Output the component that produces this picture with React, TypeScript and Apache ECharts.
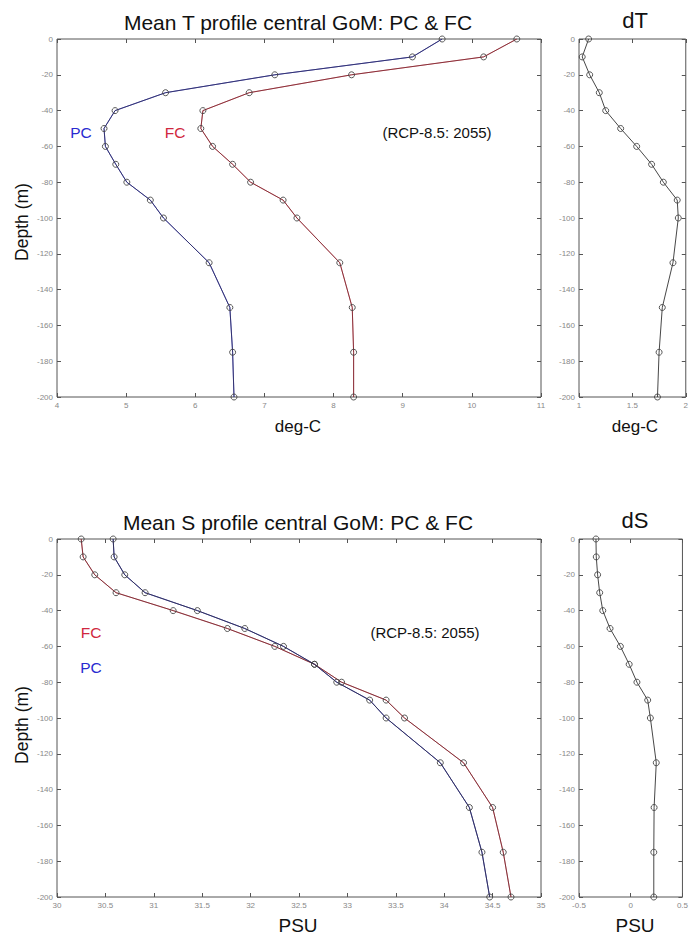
import React, { useEffect, useRef } from "react";
import * as echarts from "echarts";

const depths = [0, -10, -20, -30, -40, -50, -60, -70, -80, -90, -100, -125, -150, -175, -200];
const tPC = [9.57, 9.14, 7.15, 5.57, 4.84, 4.68, 4.7, 4.85, 5.01, 5.35, 5.54, 6.2, 6.5, 6.54, 6.56];
const tFC = [10.65, 10.17, 8.26, 6.78, 6.11, 6.08, 6.25, 6.54, 6.8, 7.27, 7.47, 8.09, 8.27, 8.29, 8.29];
const dT = [1.09, 1.03, 1.1, 1.19, 1.25, 1.39, 1.54, 1.68, 1.79, 1.92, 1.93, 1.88, 1.78, 1.75, 1.735];
const sFC = [30.25, 30.27, 30.39, 30.61, 31.2, 31.76, 32.25, 32.66, 32.94, 33.4, 33.59, 34.2, 34.5, 34.61, 34.69];
const sPC = [30.58, 30.59, 30.7, 30.91, 31.45, 31.94, 32.34, 32.66, 32.89, 33.23, 33.4, 33.96, 34.26, 34.39, 34.47];
const dS = [-0.336, -0.333, -0.32, -0.3, -0.27, -0.2, -0.1, -0.015, 0.06, 0.164, 0.19, 0.247, 0.226, 0.223, 0.223];

const titleTop = "Mean T profile central GoM: PC & FC";
const titleBottom = "Mean S profile central GoM: PC & FC";
const scenario = "(RCP-8.5: 2055)";

const FONT = "Liberation Sans, Arial, sans-serif";
const FRAME = "#555";
const TICKLBL = "#888";

function pairs(xs: number[]) {
  return xs.map((x, i) => [x, depths[i]]);
}

export default function App() {
  const ref = useRef<HTMLDivElement>(null);
  useEffect(() => {
    if (!ref.current) return;
    const chart = echarts.init(ref.current, undefined, { renderer: "svg" });
    const grids = [
      { left: 57, top: 39, width: 484, height: 358 },
      { left: 579, top: 39, width: 111, height: 358 },
      { left: 57, top: 539, width: 484, height: 358 },
      { left: 579, top: 539, width: 111, height: 358 },
    ].map((g) => ({ ...g, show: true, borderColor: FRAME, borderWidth: 1, backgroundColor: "#fff" }));

    const xRanges = [
      { min: 4, max: 11, interval: 1 },
      { min: 1, max: 2, interval: 0.5 },
      { min: 30, max: 35, interval: 0.5 },
      { min: -0.5, max: 0.5, interval: 0.5 },
    ];
    const tick = { show: true, inside: true, length: 4, lineStyle: { color: FRAME } };
    const noLine = { show: false, onZero: false };
    const xAxis: any[] = [];
    const yAxis: any[] = [];
    xRanges.forEach((r, i) => {
      xAxis.push({
        type: "value",
        gridIndex: i,
        position: "bottom",
        ...r,
        axisLine: noLine,
        axisTick: tick,
        splitLine: { show: false },
        axisLabel: { color: TICKLBL, fontSize: 8, fontFamily: FONT, margin: 4, showMinLabel: true, showMaxLabel: true },
      });
      xAxis.push({
        type: "value",
        gridIndex: i,
        position: "top",
        ...r,
        axisLine: noLine,
        axisTick: tick,
        splitLine: { show: false },
        axisLabel: { show: false },
      });
      yAxis.push({
        type: "value",
        gridIndex: i,
        position: "left",
        min: -200,
        max: 0,
        interval: 20,
        axisLine: noLine,
        axisTick: tick,
        splitLine: { show: false },
        axisLabel: { color: TICKLBL, fontSize: 8, fontFamily: FONT, margin: 4 },
      });
      yAxis.push({
        type: "value",
        gridIndex: i,
        position: "right",
        min: -200,
        max: 0,
        interval: 20,
        axisLine: noLine,
        axisTick: tick,
        splitLine: { show: false },
        axisLabel: { show: false },
      });
    });

    const colorLine = (data: number[], grid: number, color: string) => ({
      type: "line",
      xAxisIndex: grid * 2,
      yAxisIndex: grid * 2,
      data: pairs(data),
      symbol: "none",
      lineStyle: { color, width: 1 },
      z: 2,
    });
    const markLine = (data: number[], grid: number, opacity: number) => ({
      type: "line",
      xAxisIndex: grid * 2,
      yAxisIndex: grid * 2,
      data: pairs(data),
      symbol: "circle",
      symbolSize: 6,
      itemStyle: { color: "rgba(255,255,255,0)", borderColor: "#444", borderWidth: 0.9 },
      lineStyle: { color: "#333", width: 1, opacity },
      z: 3,
    });

    const series = [
      colorLine(tPC, 0, "#3030c8"),
      markLine(tPC, 0, 0.6),
      colorLine(tFC, 0, "#d03040"),
      markLine(tFC, 0, 0.45),
      markLine(dT, 1, 0.9),
      colorLine(sFC, 2, "#d03040"),
      markLine(sFC, 2, 0.5),
      colorLine(sPC, 2, "#3030c8"),
      markLine(sPC, 2, 0.75),
      markLine(dS, 3, 0.9),
    ];

    const txt = (text: string, x: number, y: number, size: number, color = "#111", extra: any = {}) => ({
      type: "text",
      x,
      y,
      style: { text, fontSize: size, fontFamily: FONT, fill: color, align: "center", verticalAlign: "middle" },
      z: 10,
      ...extra,
    });

    const graphic = [
      txt(titleTop, 298, 22, 21),
      txt("dT", 635, 20, 22),
      txt("deg-C", 298, 426, 17),
      txt("deg-C", 635, 426, 17),
      txt(titleBottom, 298, 522, 21),
      txt("dS", 635, 520, 22),
      txt("PSU", 298, 925, 19),
      txt("PSU", 635, 925, 19),
      txt("Depth (m)", 22, 222, 17.5, "#111", { rotation: Math.PI / 2 }),
      txt("Depth (m)", 22, 725, 17.5, "#111", { rotation: Math.PI / 2 }),
      txt("PC", 81, 132, 15.5, "#2a2ad0"),
      txt("FC", 175, 132, 15.5, "#d02840"),
      txt(scenario, 437, 132, 15),
      txt("FC", 91, 632, 15.5, "#d02840"),
      txt("PC", 91, 667, 15.5, "#2a2ad0"),
      txt(scenario, 425, 632, 15),
    ];

    chart.setOption({
      animation: false,
      backgroundColor: "#fff",
      grid: grids,
      xAxis,
      yAxis,
      series,
      graphic,
    });
    return () => chart.dispose();
  }, []);
  return <div ref={ref} style={{ position: "fixed", left: 0, top: 0, width: 691, height: 939 }} />;
}
